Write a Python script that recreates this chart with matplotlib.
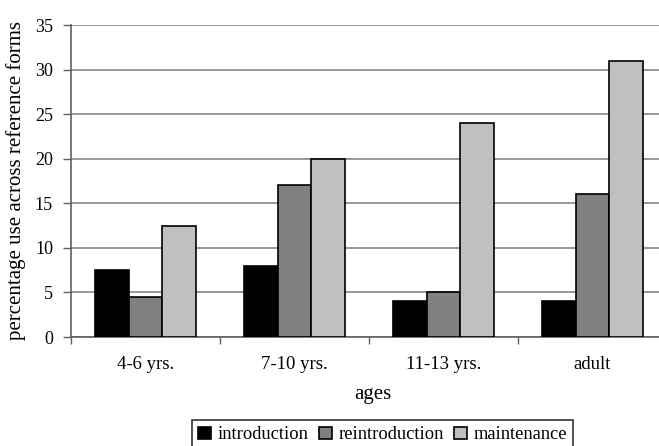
import numpy as np
import matplotlib.pyplot as plt

plt.rcParams['font.family'] = ['Liberation Serif', 'DejaVu Serif']

ages = ["4-6 yrs.", "7-10 yrs.", "11-13 yrs.", "adult"]
introduction = [7.5, 8, 4, 4]
reintroduction = [4.5, 17, 5, 16]
maintenance = [12.5, 20, 24, 31]

series = [("introduction", introduction, "#000000"),
          ("reintroduction", reintroduction, "#808080"),
          ("maintenance", maintenance, "#c0c0c0")]

W, H = 659, 446
fig = plt.figure(figsize=(W / 100, H / 100), dpi=100)
ax = fig.add_axes([71 / W, (H - 337) / H, (667 - 71) / W, (337 - 25) / H])

x = np.arange(len(ages))
bw = 0.225
for i, (name, vals, col) in enumerate(series):
    ax.bar(x + (i - 1) * bw, vals, bw, color=col, edgecolor="black",
           linewidth=1.2, label=name, zorder=3)

ax.set_xlim(-0.5, len(ages) - 0.5)
ax.set_ylim(0, 35)
ax.set_yticks(np.arange(0, 36, 5))
ax.yaxis.grid(True, color="#7a7a7a", linewidth=1.1, zorder=0)
ax.set_xticks(x)
ax.set_xticklabels(ages, fontsize=13.5)
ax.set_xticks(np.arange(-0.5, len(ages), 1), minor=True)
ax.tick_params(axis="x", which="major", length=0, pad=14)
ax.tick_params(axis="x", which="minor", length=5, color="#606060", width=1)
ax.tick_params(axis="y", length=6, color="#606060", width=1, labelsize=13, pad=7)
for s in ["top", "right"]:
    ax.spines[s].set_visible(False)
for s in ["left", "bottom"]:
    ax.spines[s].set_color("#606060")
    ax.spines[s].set_linewidth(1.2)

# axis titles placed in figure pixels
fig.text(16 / W, (H - 181) / H, "percentage use across reference forms",
         fontsize=15, rotation=90, ha="center", va="center")
fig.text(373 / W, (H - 394) / H, "ages", fontsize=15, ha="center", va="center")

leg = fig.legend(loc="upper left", bbox_to_anchor=(192 / W, (H - 420) / H), ncol=3,
                 fontsize=13.3, frameon=True, fancybox=False, edgecolor="black",
                 handlelength=0.7, handleheight=0.7, handletextpad=0.35,
                 columnspacing=0.55, borderpad=0.35, borderaxespad=0)
leg.get_frame().set_linewidth(1.2)

fig.savefig("out.png", dpi=100)
